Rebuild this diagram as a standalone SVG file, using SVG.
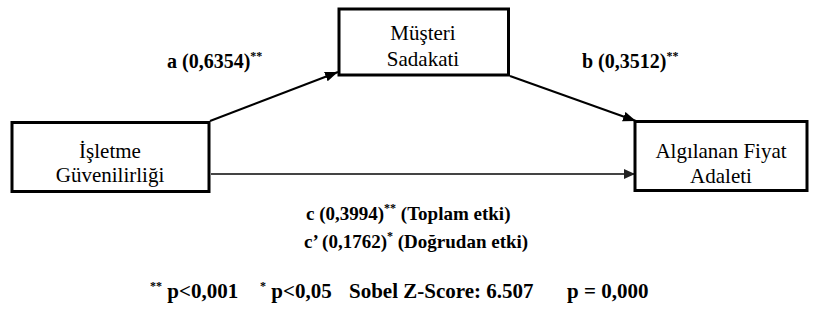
<svg xmlns="http://www.w3.org/2000/svg" width="814" height="320" viewBox="0 0 814 320">
  <style>
    .box { fill: #fff; stroke: #000; stroke-width: 3; }
    .lbl { font-size: 21px; fill: #000; text-anchor: middle; }
    .eq { font-size: 20px; font-weight: bold; fill: #000; }
    .eq19 { font-size: 19px; }
    .eq21 { font-size: 21px; }
    .sup { font-size: 12px; }
    .edge { fill: none; stroke: #000; stroke-width: 2; }
    .direct { fill: none; stroke: #444; stroke-width: 2; }
  </style>
  <defs>
    <marker id="head" markerUnits="userSpaceOnUse" markerWidth="14" markerHeight="12" refX="13" refY="5" orient="auto">
      <path d="M0,0 L13,5 L0,10 Z" fill="#000"/>
    </marker>
    <marker id="headGrey" markerUnits="userSpaceOnUse" markerWidth="14" markerHeight="12" refX="11" refY="5" orient="auto">
      <path d="M0,0 L11,5 L0,10 Z" fill="#222"/>
    </marker>
  </defs>
  <rect width="814" height="320" fill="#fff"/>

  <!-- connectors -->
  <g id="connectors">
    <line class="edge" x1="210" y1="121" x2="338" y2="72" marker-end="url(#head)"/>
    <line class="edge" x1="510" y1="76" x2="636" y2="121" marker-end="url(#head)"/>
    <line class="direct" x1="211" y1="174" x2="635" y2="174" marker-end="url(#headGrey)"/>
  </g>

  <g font-family="Liberation Serif, Times New Roman, serif">
    <!-- nodes -->
    <g id="isletme">
      <rect class="box" x="12" y="122.5" width="197" height="69"/>
      <text class="lbl" x="110" y="158">İşletme</text>
      <text class="lbl" x="110" y="182">Güvenilirliği</text>
    </g>
    <g id="musteri">
      <rect class="box" x="339" y="9" width="169.5" height="66"/>
      <text class="lbl" x="423" y="40">Müşteri</text>
      <text class="lbl" x="423" y="66">Sadakati</text>
    </g>
    <g id="fiyat">
      <rect class="box" x="635" y="121.5" width="172" height="69"/>
      <text class="lbl" x="721" y="158">Algılanan Fiyat</text>
      <text class="lbl" x="721" y="183">Adaleti</text>
    </g>

    <!-- path coefficients -->
    <g id="labels">
      <text class="eq" x="167" y="68">a (0,6354)<tspan class="sup" dy="-8">**</tspan></text>
      <text class="eq" x="582" y="68">b (0,3512)<tspan class="sup" dy="-8">**</tspan></text>
      <text class="eq eq19" x="306" y="220">c (0,3994)<tspan class="sup" dy="-8">**</tspan><tspan dy="8"> (Toplam etki)</tspan></text>
      <text class="eq eq19" x="304" y="248">c’ (0,1762)<tspan class="sup" dy="-8">*</tspan><tspan dy="8"> (Doğrudan etki)</tspan></text>
      <text class="eq eq21" x="150" y="298"><tspan class="sup" dy="-8">**</tspan><tspan dy="8"> p&lt;0,001</tspan><tspan class="sup" x="260" dy="-8">*</tspan><tspan dy="8"> p&lt;0,05</tspan><tspan x="349">Sobel Z-Score: 6.507</tspan><tspan x="567">p = 0,000</tspan></text>
    </g>
  </g>
</svg>
